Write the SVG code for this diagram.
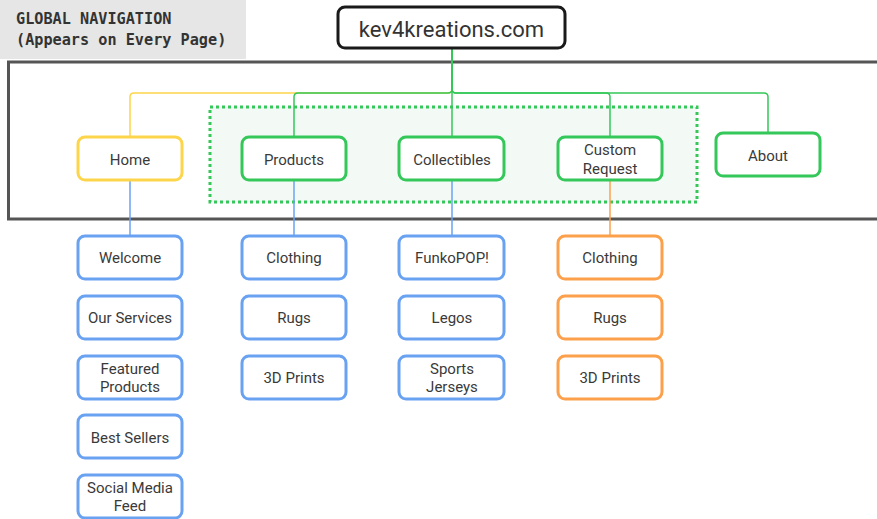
<svg xmlns="http://www.w3.org/2000/svg" width="877" height="519" viewBox="0 0 877 519">
<style>
.t{font-family:Roboto,"Liberation Sans",sans-serif;font-size:15px;fill:#3a3a3a;text-anchor:middle}
.m{font-family:"DejaVu Sans Mono","Liberation Mono",monospace;font-weight:bold;font-size:15.2px;fill:#333}
.box{fill:#fff;stroke-width:3}
.g{stroke:#34c759}
.y{stroke:#fdd54a}
.b{stroke:#6aa2f2}
.o{stroke:#fca04c}
.c{fill:none;stroke-width:1.5}
</style>
<rect x="0" y="0" width="246" height="59" fill="#e6e6e6"/>
<text class="m" x="16" y="24">GLOBAL NAVIGATION</text>
<text class="m" x="16" y="45">(Appears on Every Page)</text>
<rect x="8.5" y="62" width="900" height="157" fill="none" stroke="#555" stroke-width="3"/>
<rect x="210" y="107" width="487" height="95" fill="#f3faf5" stroke="#34c759" stroke-width="3" stroke-dasharray="3 3"/>
<g id="connectors">
<path class="c y" d="M452,49 V89 Q452,93 448,93 H134 Q130,93 130,97 V136"/>
<path class="c g" d="M452,49 V89 Q452,93 448,93 H298 Q294,93 294,97 V136"/>
<path class="c g" d="M452,49 V136"/>
<path class="c g" d="M452,49 V89 Q452,93 456,93 H606 Q610,93 610,97 V136"/>
<path class="c g" d="M452,49 V89 Q452,93 456,93 H764 Q768,93 768,97 V132"/>
<path class="c b" d="M130,181 V235"/>
<path class="c b" d="M294,181 V235"/>
<path class="c b" d="M452,181 V235"/>
<path class="c o" d="M610,181 V235"/>
</g>
<g id="root"><rect x="338" y="7" width="227" height="41" rx="7" fill="#fff" stroke="#1a1a1a" stroke-width="3"/><text x="451.5" y="37" font-family="Roboto,'Liberation Sans',sans-serif" font-size="22" fill="#333" text-anchor="middle">kev4kreations.com</text></g>
<g id="home"><rect class="box y" x="78" y="137" width="104" height="43" rx="7"/><text class="t" x="130" y="165">Home</text></g>
<g id="products"><rect class="box g" x="242" y="137" width="104" height="43" rx="7"/><text class="t" x="294" y="165">Products</text></g>
<g id="collectibles"><rect class="box g" x="399" y="137" width="105" height="43" rx="7"/><text class="t" x="452" y="165">Collectibles</text></g>
<g id="custom"><rect class="box g" x="558" y="137" width="104" height="43" rx="7"/><text class="t" x="610" y="155">Custom</text><text class="t" x="610" y="174">Request</text></g>
<g id="about"><rect class="box g" x="716" y="133" width="104" height="43" rx="7"/><text class="t" x="768" y="161">About</text></g>
<g id="welcome"><rect class="box b" x="78" y="236" width="104" height="43" rx="7"/><text class="t" x="130" y="263">Welcome</text></g>
<g id="services"><rect class="box b" x="78" y="296" width="104" height="43" rx="7"/><text class="t" x="130" y="323">Our Services</text></g>
<g id="featured"><rect class="box b" x="78" y="356" width="104" height="43" rx="7"/><text class="t" x="130" y="374">Featured</text><text class="t" x="130" y="392">Products</text></g>
<g id="bestsellers"><rect class="box b" x="78" y="415" width="104" height="43" rx="7"/><text class="t" x="130" y="443">Best Sellers</text></g>
<g id="social"><rect class="box b" x="78" y="475" width="104" height="43" rx="7"/><text class="t" x="130" y="493">Social Media</text><text class="t" x="130" y="511">Feed</text></g>
<g id="p-clothing"><rect class="box b" x="242" y="236" width="104" height="43" rx="7"/><text class="t" x="294" y="263">Clothing</text></g>
<g id="p-rugs"><rect class="box b" x="242" y="296" width="104" height="43" rx="7"/><text class="t" x="294" y="323">Rugs</text></g>
<g id="p-3d"><rect class="box b" x="242" y="356" width="104" height="43" rx="7"/><text class="t" x="294" y="383">3D Prints</text></g>
<g id="funko"><rect class="box b" x="399" y="236" width="105" height="43" rx="7"/><text class="t" x="452" y="263">FunkoPOP!</text></g>
<g id="legos"><rect class="box b" x="399" y="296" width="105" height="43" rx="7"/><text class="t" x="452" y="323">Legos</text></g>
<g id="jerseys"><rect class="box b" x="399" y="356" width="105" height="43" rx="7"/><text class="t" x="452" y="374">Sports</text><text class="t" x="452" y="392">Jerseys</text></g>
<g id="c-clothing"><rect class="box o" x="558" y="236" width="104" height="43" rx="7"/><text class="t" x="610" y="263">Clothing</text></g>
<g id="c-rugs"><rect class="box o" x="558" y="296" width="104" height="43" rx="7"/><text class="t" x="610" y="323">Rugs</text></g>
<g id="c-3d"><rect class="box o" x="558" y="356" width="104" height="43" rx="7"/><text class="t" x="610" y="383">3D Prints</text></g>
</svg>
